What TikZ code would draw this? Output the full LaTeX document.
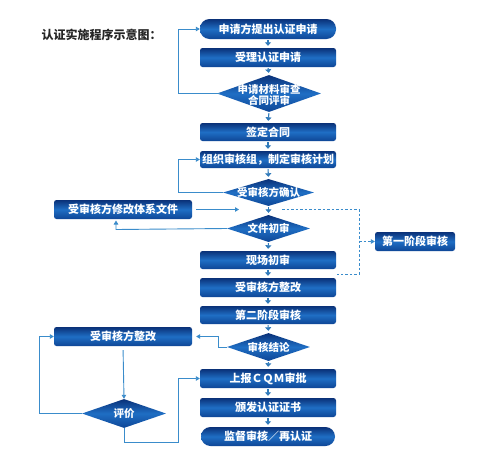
\documentclass[tikz,border=0pt]{standalone}
\usepackage{fontspec}
\setmainfont{Noto Sans CJK SC}
\usetikzlibrary{shapes.geometric,arrows.meta}
\definecolor{navy}{HTML}{0A3178}
\definecolor{midblue}{HTML}{1F6EC4}
\definecolor{botblue}{HTML}{0E4696}
\definecolor{linkblue}{HTML}{3A8CCB}
\begin{document}
\begin{tikzpicture}[x=1pt,y=-1pt,
  boxbase/.style={draw=none, top color=navy, bottom color=botblue, middle color=midblue,
    text=white, font=\fontsize{11}{13}\selectfont\bfseries, inner sep=0pt},
  flowbox/.style 2 args={boxbase, rectangle, rounded corners=2.5pt, minimum width=#1pt, minimum height=#2pt},
  pillbox/.style 2 args={boxbase, rectangle, rounded corners=9.5pt, minimum width=#1pt, minimum height=#2pt},
  dia/.style 2 args={boxbase, diamond, minimum width=#1pt, minimum height=#2pt},
  diatxt/.style={text=white, font=\fontsize{10.5}{10.5}\selectfont\bfseries, align=center, inner sep=0pt},
  link/.style={draw=linkblue, line width=0.9pt},
  arr/.style={link, -{Triangle[width=4.5pt,length=4pt]}},
  downarr/.style={draw=linkblue!80!navy, line width=1.1pt, -{Triangle[width=6pt,length=3.5pt]}, shorten <=1pt, shorten >=2pt},
  dashlink/.style={link, dash pattern=on 2.5pt off 2pt},
  dasharr/.style={dashlink, -{Triangle[width=4.5pt,length=4pt]}}
 ]
\useasboundingbox (0,0) rectangle (493,474);
\fill[white] (0,0) rectangle (493,474);

\node[anchor=west, font=\fontsize{12}{14}\selectfont\bfseries, text=black!85] (title) at (38,35) {认证实施程序示意图：};

\node[pillbox={136}{20}] (b1) at (268,29) {申请方提出认证申请};
\node[flowbox={136}{19}] (b2) at (268,57.5) {受理认证申请};
\node[dia={104}{37}, label={[diatxt, yshift=-1.5pt]center:申请材料审查\\合同评审}] (d1) at (269,93.5) {};
\node[flowbox={136}{18}] (b4) at (268,132) {签定合同};
\node[flowbox={136}{17}] (b5) at (268,159.5) {组织审核组，制定审核计划};
\node[dia={91}{27}, label={[diatxt]center:受审核方确认}] (d2) at (268.5,192.5) {};
\node[flowbox={138}{19}] (bL1) at (123,209.5) {受审核方修改体系文件};
\node[dia={83}{27}, label={[diatxt]center:文件初审}] (d3) at (268.5,228.5) {};
\node[flowbox={136}{18}] (b7) at (268,260) {现场初审};
\node[flowbox={80}{19}] (bR) at (415,241.5) {第一阶段审核};
\node[flowbox={136}{19}] (b8) at (268,287.5) {受审核方整改};
\node[flowbox={136}{18}] (b9) at (268,315) {第二阶段审核};
\node[flowbox={138}{19}] (bL2) at (123,336.5) {受审核方整改};
\node[dia={83}{28}, label={[diatxt]center:审核结论}] (d4) at (268.5,347) {};
\node[flowbox={136}{19}] (b10) at (268,378.5) {上报ＣＱＭ审批};
\node[flowbox={136}{19}] (b11) at (268,407.5) {颁发认证证书};
\node[pillbox={134}{19}] (b12) at (268,436.5) {监督审核／再认证};
\node[dia={84}{29}, label={[diatxt]center:评价}] (d5) at (124,413.5) {};

% main vertical arrows
\draw[downarr] (b1.south) -- (b2.north);
\draw[downarr] (b2.south) -- (d1.north);
\draw[downarr] (d1.south) -- (b4.north);
\draw[downarr] (b4.south) -- (b5.north);
\draw[downarr] (b5.south) -- (d2.north);
\draw[downarr] (d2.south) -- (d3.north);
\draw[downarr] (d3.south) -- (b7.north);
\draw[downarr] (b7.south) -- (b8.north);
\draw[downarr] (b8.south) -- (b9.north);
\draw[downarr] (b9.south) -- (d4.north);
\draw[downarr] (d4.south) -- (b10.north);
\draw[downarr] (b10.south) -- (b11.north);
\draw[downarr] (b11.south) -- (b12.north);

% feedback loops
\draw[arr, shorten <=-3pt] (d1.west) -- (178,93.5) |- (b1.west);
\draw[arr] (d2.west) -- (178,192.5) |- (b5.west);
\coordinate (gap) at (239,209.5);
\draw[arr, shorten <=4pt] (bL1.east) -- (gap);
\draw[arr, shorten >=1.5pt] (d3.west) -- (116,229.5) -- (116,219);
\coordinate (ds) at (282,209.5);
\draw[dashlink] (ds) -- (359,209.5) -- (359,274) -- (337,274);
\draw[dasharr] (359,241.5) -- (bR.west);
\draw[arr, shorten >=4pt] (d4.west) -- (218,347) |- (bL2.east);
\draw[arr, shorten <=4pt] (bL2.south) -- (d5.north);
\draw[arr] (d5.west) -- (39,413.5) |- (bL2.west);
\draw[arr] (d5.south) |- (178,442) |- (b10.west);
\end{tikzpicture}
\end{document}
